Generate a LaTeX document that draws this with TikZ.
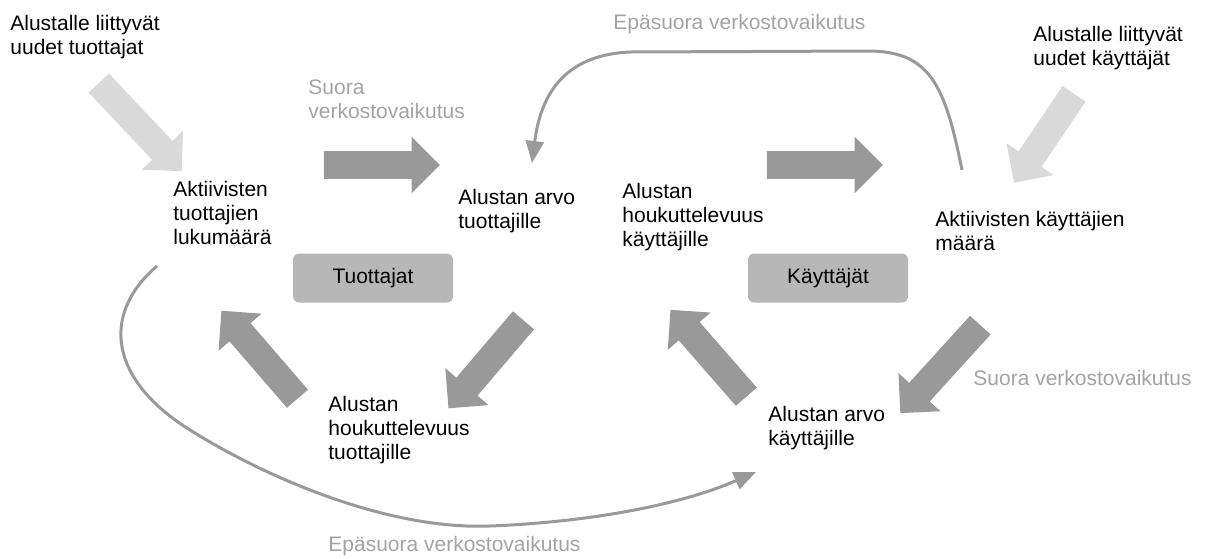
\documentclass[tikz,border=0pt]{standalone}
\usepackage{fontspec}
\setmainfont{Liberation Sans}
\usepackage{tikz}
\usetikzlibrary{
  shapes.arrows
  , calc
  , arrows.meta
}
\definecolor{fatgray}{HTML}{999999}
\definecolor{palegray}{HTML}{D9D9D9}
\definecolor{boxgray}{HTML}{B7B7B7}
\definecolor{notegray}{HTML}{A3A3A3}
% fat arrow node from tail to tip: name, style, tail, tip
\newcommand\fatarrow[4]{%
  \path let \p1=(#3), \p2=(#4), \n1={atan2(\y2-\y1,\x2-\x1)}, \n2={veclen(\x2-\x1,\y2-\y1)}
    in node[#2, rotate=\n1, minimum height=\n2] (#1) at ($(#3)!0.5!(#4)$) {};}

\begin{document}
\begin{tikzpicture}[x=0.5pt, y=-0.5pt]
      \tikzstyle{label template}=[anchor=base west, align=left, inner sep=0, font=\fontsize{10.5}{11.8}\selectfont]
      \tikzstyle{effect template}=[label template, text=notegray]
      \tikzstyle{fat template}=[single arrow, draw=none, fill=fatgray, inner xsep=0, inner ysep=6.75pt, single arrow head extend=7.25pt]
      \tikzstyle{pale template}=[fat template, fill=palegray]
      \tikzstyle{group template}=[rounded corners=3pt, fill=boxgray, minimum width=80pt, minimum height=24.5pt, inner sep=0, font=\fontsize{10.5}{11.8}\selectfont]
      \tikzstyle{link template}=[draw=fatgray, line width=1.5pt, -{Triangle[length=11pt, width=9pt]}]

      \useasboundingbox (0,0) rectangle (1209,558);

      % positions are the baselines of the last lines
      \node [label template] (newP) at (10,54) {Alustalle liittyvät\\uudet tuottajat};
      \node [label template] (actP) at (173,244) {Aktiivisten\\tuottajien\\lukumäärä};
      \node [label template] (valP) at (458,228) {Alustan arvo\\tuottajille};
      \node [label template] (attU) at (622,246) {Alustan\\houkuttelevuus\\käyttäjille};
      \node [label template] (actU) at (935,250) {Aktiivisten käyttäjien\\määrä};
      \node [label template] (newU) at (1033,65) {Alustalle liittyvät\\uudet käyttäjät};
      \node [label template] (attP) at (328,459) {Alustan\\houkuttelevuus\\tuottajille};
      \node [label template] (valU) at (768,445) {Alustan arvo\\käyttäjille};

      \node [effect template] (directP) at (308,118) {Suora\\verkostovaikutus};
      \node [effect template] (directU) at (973,385) {Suora verkostovaikutus};
      \node [effect template] (indirectU) at (613,29) {Epäsuora verkostovaikutus};
      \node [effect template] (indirectP) at (328,551) {Epäsuora verkostovaikutus};

      \node [group template] (P) at (373,278) {Tuottajat};
      \node [group template] (U) at (828,278) {Käyttäjät};

      % fat arrows
      \fatarrow{joinP}{pale template}{94,78}{177,166}
      \fatarrow{joinU}{pale template}{1078,88}{1018,177}
      \fatarrow{spP}{fat template}{317,165}{433,165}
      \fatarrow{spU}{fat template}{760,165}{876,165}
      \fatarrow{loopPa}{fat template}{528,315}{453,403}
      \fatarrow{loopPb}{fat template}{302,404}{226,316}
      \fatarrow{loopUb}{fat template}{751,402}{675,315}
      \fatarrow{loopUa}{fat template}{985,320}{905,408}

      % indirect effects
      \coordinate (top start) at (962,170);
      \coordinate (top end) at (532,163);
      \draw [link template] (top start) .. controls (945,85) and (930,52) .. (870,51) -- (630,52) .. controls (560,55) and (540,100) .. (top end);

      \coordinate (bottom start) at (157,266);
      \coordinate (bottom end) at (756,472);
      \draw [link template] (bottom start) .. controls (100,315) and (110,380) .. (190,430) .. controls (270,480) and (390,530) .. (490,526) .. controls (590,522) and (680,505) .. (bottom end);

    \end{tikzpicture}
\end{document}
